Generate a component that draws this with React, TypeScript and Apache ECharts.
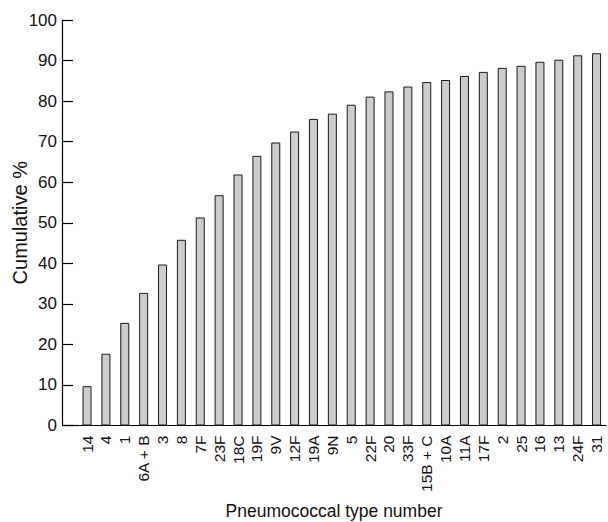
import React, { useEffect, useRef } from "react";
import * as echarts from "echarts";

const categories = [
  "14", "4", "1", "6A + B", "3", "8", "7F", "23F", "18C", "19F", "9V", "12F", "19A", "9N",
  "5", "22F", "20", "33F", "15B + C", "10A", "11A", "17F", "2", "25", "16", "13", "24F", "31",
];
const cumulative = [
  9.7, 17.7, 25.3, 32.7, 39.7, 45.8, 51.3, 56.8, 61.9, 66.5, 69.8, 72.5, 75.6, 76.9,
  79.1, 81.1, 82.4, 83.6, 84.7, 85.2, 86.2, 87.2, 88.2, 88.7, 89.7, 90.2, 91.3, 91.8,
];
const yTicks = { min: 0, max: 100, interval: 10 };

const FONT = "'Liberation Sans', Arial, Helvetica, sans-serif";

export default function App() {
  const ref = useRef<HTMLDivElement>(null);
  useEffect(() => {
    if (!ref.current) return;
    const chart = echarts.init(ref.current, null, { renderer: "svg" });
    const gridLeft = 77.6;
    const axisX = 62;
    const gridBottom = 96.5;
    chart.setOption({
      animation: false,
      backgroundColor: "#ffffff",
      grid: {
        left: gridLeft,
        right: 2,
        top: 20,
        bottom: gridBottom,
        containLabel: false,
        outerBoundsMode: "none",
      },
      xAxis: {
        type: "category",
        data: categories,
        boundaryGap: true,
        axisLine: { show: true, lineStyle: { color: "#000", width: 1.2 } },
        axisTick: { show: false },
        axisLabel: {
          rotate: 90,
          interval: 0,
          margin: 10,
          color: "#111",
          fontSize: 15.5,
          fontFamily: FONT,
        },
        name: "Pneumococcal type number",
        nameLocation: "middle",
        nameGap: 76,
        nameMoveOverlap: false,
        nameTextStyle: {
          color: "#111",
          fontSize: 17.5,
          fontFamily: FONT,
          padding: [0, (gridLeft - axisX), 0, 0],
        },
      },
      yAxis: {
        type: "value",
        min: yTicks.min,
        max: yTicks.max,
        interval: yTicks.interval,
        offset: gridLeft - axisX,
        splitLine: { show: false },
        axisLine: { show: true, lineStyle: { color: "#000", width: 1.2 } },
        axisTick: { show: true, inside: true, length: 11, lineStyle: { color: "#000", width: 1.2 } },
        axisLabel: { margin: 5, color: "#111", fontSize: 17, fontFamily: FONT },
        name: "Cumulative %",
        nameLocation: "middle",
        nameGap: 32,
        nameMoveOverlap: false,
        nameTextStyle: { color: "#111", fontSize: 20, fontFamily: FONT },
      },
      graphic: [
        {
          type: "line",
          shape: { x1: axisX, y1: 522 - gridBottom, x2: gridLeft + 1, y2: 522 - gridBottom },
          style: { stroke: "#000", lineWidth: 1.2 },
        },
      ],
      series: [
        {
          type: "bar",
          data: cumulative,
          barWidth: 9,
          itemStyle: { color: "#cccccc", borderColor: "#1a1a1a", borderWidth: 1 },
        },
      ],
    });
    return () => chart.dispose();
  }, []);
  return <div ref={ref} style={{ width: 608, height: 522, position: "absolute", left: 0, top: 0 }} />;
}
